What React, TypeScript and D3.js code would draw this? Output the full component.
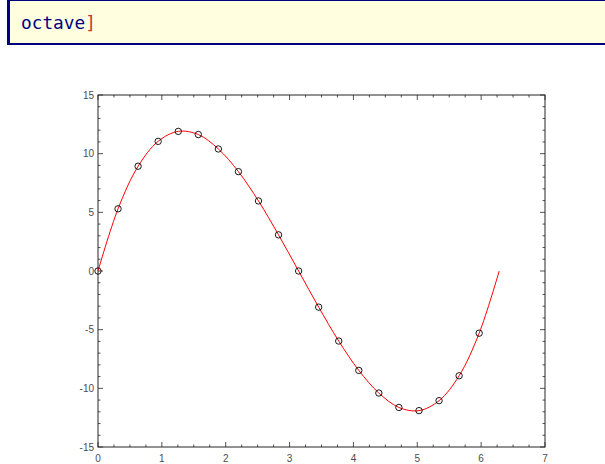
import React, { useEffect, useRef } from 'react'
import * as d3 from 'd3'

const sampleX = [0, 0.314, 0.628, 0.942, 1.257, 1.571, 1.885, 2.199, 2.513, 2.827, 3.142,
  3.456, 3.77, 4.084, 4.398, 4.712, 5.027, 5.341, 5.655, 5.969]
const sampleY = [0, 5.3, 8.93, 11.05, 11.9, 11.63, 10.4, 8.47, 5.97, 3.08, 0,
  -3.08, -5.97, -8.47, -10.4, -11.63, -11.9, -11.05, -8.93, -5.3]
// the fitted line also runs to the end point
const lineEndX = 6.283
const lineEndY = 0

const xTicks = [0, 1, 2, 3, 4, 5, 6, 7]
const yTicks = [-15, -10, -5, 0, 5, 10, 15]

const W = 605
const H = 464
const margin = { top: 95, right: 60, bottom: 17, left: 98 }

function Chart () {
  const ref = useRef<SVGSVGElement>(null)

  useEffect(() => {
    const svg = d3.select(ref.current)
    svg.selectAll('*').remove()

    const width = W - margin.left - margin.right
    const height = H - margin.top - margin.bottom

    const x = d3.scaleLinear().domain([0, 7]).range([0, width])
    const y = d3.scaleLinear().domain([-15, 15]).range([height, 0])

    const g = svg.append('g').attr('transform', `translate(${margin.left}, ${margin.top})`)

    const axisColour = '#262626'
    const labelColour = '#4d4d4d'

    // ticks on all four sides, pointing inward
    const xMinor = d3.range(0, 7.001, 0.25)
    const yMinor = d3.range(-15, 15.001, 1)
    xMinor.forEach(v => {
      const major = Math.abs(v - Math.round(v)) < 1e-6
      const len = major ? 5 : 2.5
      g.append('line').attr('x1', x(v)).attr('x2', x(v)).attr('y1', height).attr('y2', height - len)
        .attr('stroke', axisColour).attr('stroke-width', 0.8)
      g.append('line').attr('x1', x(v)).attr('x2', x(v)).attr('y1', 0).attr('y2', len)
        .attr('stroke', axisColour).attr('stroke-width', 0.8)
    })
    yMinor.forEach(v => {
      const major = v % 5 === 0
      const len = major ? 5 : 2.5
      g.append('line').attr('x1', 0).attr('x2', len).attr('y1', y(v)).attr('y2', y(v))
        .attr('stroke', axisColour).attr('stroke-width', 0.8)
      g.append('line').attr('x1', width).attr('x2', width - len).attr('y1', y(v)).attr('y2', y(v))
        .attr('stroke', axisColour).attr('stroke-width', 0.8)
    })

    g.append('rect')
      .attr('x', 0).attr('y', 0).attr('width', width).attr('height', height)
      .attr('fill', 'none').attr('stroke', axisColour).attr('stroke-width', 1)

    g.append('g')
      .selectAll('text')
      .data(xTicks)
      .enter().append('text')
        .attr('x', d => x(d))
        .attr('y', height + 15)
        .attr('text-anchor', 'middle')
        .attr('font-family', 'Liberation Sans, Arial, sans-serif')
        .attr('font-size', '10px')
        .attr('fill', labelColour)
        .text(d => d)

    g.append('g')
      .selectAll('text')
      .data(yTicks)
      .enter().append('text')
        .attr('x', -4)
        .attr('y', d => y(d))
        .attr('dy', '0.35em')
        .attr('text-anchor', 'end')
        .attr('font-family', 'Liberation Sans, Arial, sans-serif')
        .attr('font-size', '10px')
        .attr('fill', labelColour)
        .text(d => d)

    const linePts: [number, number][] = sampleX.map((v, i) => [v, sampleY[i]])
    linePts.push([lineEndX, lineEndY])

    const line = d3.line<[number, number]>()
      .x(d => x(d[0]))
      .y(d => y(d[1]))
      .curve(d3.curveCatmullRom.alpha(0.5))

    g.append('path')
      .datum(linePts)
      .attr('d', line)
      .attr('fill', 'none')
      .attr('stroke', '#ff0000')
      .attr('stroke-width', 1)

    g.append('g')
      .selectAll('circle')
      .data(sampleX)
      .enter().append('circle')
        .attr('cx', d => x(d))
        .attr('cy', (d, i) => y(sampleY[i]))
        .attr('r', 3.2)
        .attr('fill', 'none')
        .attr('stroke', '#000')
        .attr('stroke-width', 0.9)
  }, [])

  return <svg ref={ref} width={W} height={H} style={{ position: 'absolute', left: 0, top: 0 }} />
}

export default function App () {
  return (
    <div style={{ position: 'fixed', left: 0, top: 0, width: W, height: H, overflow: 'hidden', background: '#fff' }}>
      <div style={{
        position: 'absolute', left: 7, top: -1, width: W, height: 46,
        background: '#ffffe0', borderLeft: '3px solid #00007f', borderTop: '2px solid #00007f',
        borderBottom: '2px solid #00007f', boxSizing: 'border-box'
      }}>
        <span style={{
          position: 'absolute', left: 11, top: 12, fontFamily: 'DejaVu Sans Mono, monospace',
          fontSize: 17.8, lineHeight: '20px', color: '#000080'
        }}>octave<span style={{ color: '#c0392b' }}>]</span></span>
      </div>
      <Chart />
    </div>
  )
}
